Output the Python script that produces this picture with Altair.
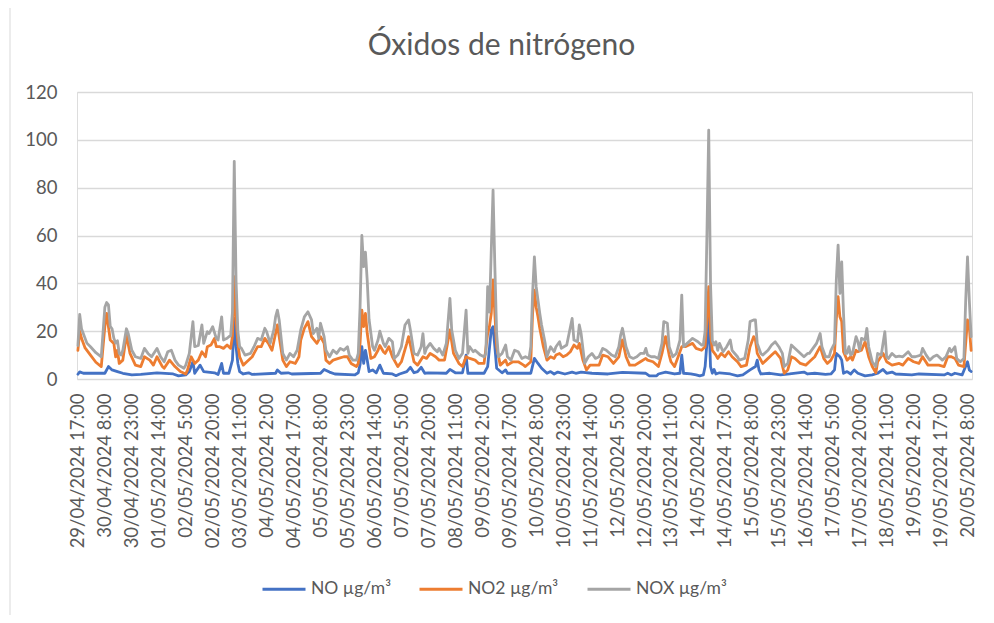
import json
import altair as alt
import pandas as pd

# ---------------- data (hours counted from 29/04/2024 17:00) ----------------
TICK_HOURS = [0, 15, 30, 45, 60, 75, 90, 105, 120, 135, 150, 165, 180, 195, 210, 225, 240,
              255, 270, 285, 300, 315, 330, 345, 360, 375, 390, 405, 420, 435, 450, 465, 480, 495]
TICK_LABELS = ["29/04/2024 17:00", "30/04/2024 8:00", "30/04/2024 23:00", "01/05/2024 14:00",
               "02/05/2024 5:00", "02/05/2024 20:00", "03/05/2024 11:00", "04/05/2024 2:00",
               "04/05/2024 17:00", "05/05/2024 8:00", "05/05/2024 23:00", "06/05/2024 14:00",
               "07/05/2024 5:00", "07/05/2024 20:00", "08/05/2024 11:00", "09/05/2024 2:00",
               "09/05/2024 17:00", "10/05/2024 8:00", "10/05/2024 23:00", "11/05/2024 14:00",
               "12/05/2024 5:00", "12/05/2024 20:00", "13/05/2024 11:00", "14/05/2024 2:00",
               "14/05/2024 17:00", "15/05/2024 8:00", "15/05/2024 23:00", "16/05/2024 14:00",
               "17/05/2024 5:00", "17/05/2024 20:00", "18/05/2024 11:00", "19/05/2024 2:00",
               "19/05/2024 17:00", "20/05/2024 8:00"]
LAST_HOUR = 497

SERIES = ["NO µg/m³", "NO2 µg/m³", "NOX µg/m³"]
COLORS = ["#4472C4", "#ED7D31", "#A5A5A5"]

NO = [(0, 2), (1, 3), (3, 2.4), (7, 2.4), (15, 2.4), (17, 5.2), (19, 3.8), (22, 3.1), (25, 2.4),
      (30, 1.7), (35, 1.9), (44, 2.6), (53, 2.1), (56, 1.3), (60, 1.7), (62, 3.1), (64, 7.2),
      (65, 2.4), (68, 5.8), (70, 3.1), (76, 2.6), (78, 1.9), (80, 6.5), (81, 2.4), (84, 2.4),
      (86, 7.9), (87, 25.3), (88, 13.5), (89, 6.5), (90, 3.1), (92, 2.1), (95, 2.6), (97, 1.9),
      (110, 2.4), (111, 3.8), (113, 2.4), (117, 2.6), (119, 2.1), (135, 2.4), (137, 4),
      (140, 2.9), (143, 2.1), (154, 1.7), (156, 2.6), (157, 6), (158, 13.5), (159, 6.5),
      (160, 12), (161, 7.9), (162, 3.1), (164, 3.8), (166, 2.6), (168, 5.8), (170, 2.4),
      (175, 2.1), (177, 1.4), (179, 2.1), (183, 3.1), (185, 4.9), (187, 2.6), (189, 3.1),
      (191, 4.9), (193, 2.4), (195, 2.6), (205, 2.4), (207, 4), (210, 2.6), (214, 2.6),
      (216, 10), (217, 2.4), (226, 2.4), (228, 5.2), (230, 20.5), (231, 21.9), (232, 13.5),
      (233, 4.5), (236, 2.6), (238, 3.8), (239, 2.4), (250, 2.4), (252, 2.4), (254, 8.6),
      (256, 6.5), (258, 4.5), (261, 2.4), (263, 3.1), (265, 2.1), (267, 2.9), (271, 2.1),
      (275, 2.9), (277, 2.4), (280, 2.9), (286, 2.4), (295, 2.1), (303, 2.8), (316, 2.4),
      (318, 1.3), (322, 1.3), (323, 2.1), (327, 2.9), (332, 2.1), (335, 2.4), (336, 10),
      (337, 2.4), (341, 2.1), (344, 1.7), (346, 1.3), (348, 1.7), (349, 5.2), (350, 15),
      (351, 27.4), (352, 5.2), (353, 2.4), (354, 4), (355, 2.1), (357, 2.6), (363, 2.1),
      (367, 1.3), (370, 1.7), (374, 3.8), (377, 5.2), (378, 7.9), (379, 3.8), (380, 2.1),
      (385, 2.4), (391, 1.7), (396, 2.1), (404, 2.9), (406, 2.1), (410, 2.4), (416, 1.9),
      (419, 2.1), (421, 3.8), (422, 10.7), (424, 9.3), (425, 7.9), (426, 2.4), (428, 3.1),
      (430, 2.1), (432, 3.8), (434, 2.4), (438, 1.3), (442, 1.7), (445, 2.4), (448, 4),
      (450, 2.4), (453, 2.9), (455, 2.1), (464, 1.7), (468, 2.1), (482, 1.7), (484, 2.4),
      (486, 1.7), (488, 2.4), (492, 1.7), (495, 7.2), (496, 3.8), (497, 3.1)]

NO2 = [(0, 12), (1, 20), (2, 17), (4, 13), (7, 10), (10, 7), (13, 5.2), (15, 22), (16, 27.4),
       (18, 16.3), (20, 14.9), (21, 9.3), (22, 12), (23, 6.5), (25, 7.9), (27, 18.4), (29, 10.7),
       (32, 5.8), (35, 5.2), (37, 9.3), (40, 7.9), (42, 5.8), (44, 9.3), (47, 5.2), (48, 4.5),
       (51, 7.9), (54, 5.2), (57, 3.1), (60, 2.1), (61, 3.8), (63, 9.3), (65, 6.5), (67, 7.9),
       (69, 11.4), (71, 9.3), (72, 13.5), (74, 14.2), (76, 17), (77, 13.5), (79, 13.5),
       (81, 12.8), (83, 14.2), (85, 12.8), (86, 18), (87, 42.8), (88, 25), (89, 15), (90, 9.3),
       (92, 5.8), (94, 7.2), (97, 9.3), (98, 10.7), (100, 13.5), (102, 13.5), (104, 17),
       (106, 14.9), (108, 12), (110, 19), (111, 22.6), (112, 17.7), (114, 7.9), (116, 5.2),
       (118, 7.2), (121, 6.5), (123, 9.3), (124, 16.3), (126, 21.2), (128, 24), (130, 17.7),
       (133, 14.9), (135, 17.7), (137, 14.9), (138, 7.9), (140, 6.5), (142, 7.9), (145, 8.6),
       (148, 9.3), (150, 9.3), (152, 6.5), (155, 5.2), (156, 6.5), (157, 15), (158, 28.8),
       (159, 21.9), (160, 27.4), (161, 19), (163, 8.6), (165, 9.3), (167, 12), (168, 14),
       (170, 11.4), (171, 10.7), (173, 13.5), (175, 9.3), (178, 5.2), (180, 7.2), (183, 14.9),
       (184, 17.7), (187, 7.2), (189, 5.8), (192, 9.3), (194, 8.6), (196, 10.7), (199, 9.3),
       (201, 7.9), (204, 7.9), (207, 20.5), (209, 10.7), (212, 6.5), (214, 5.2), (216, 9.3),
       (218, 8.6), (221, 7.9), (223, 6.5), (226, 6.5), (228, 19), (229, 22), (230, 27.4),
       (231, 41.4), (232, 27.4), (233, 13.5), (235, 5.8), (238, 7.9), (239, 5.8), (242, 7.2),
       (245, 7.2), (248, 5.8), (249, 5.2), (252, 7.2), (253, 27.4), (254, 37.2), (255, 30),
       (256, 26), (257, 21.2), (259, 13.5), (261, 7.9), (263, 9.3), (265, 8.6), (266, 10),
       (268, 10.7), (270, 9.3), (272, 10), (274, 11.4), (276, 14.2), (278, 12.8), (279, 14.9),
       (281, 7.9), (283, 3.8), (285, 5.8), (288, 5.8), (290, 5.8), (292, 10), (295, 9.3),
       (298, 6.5), (301, 9.3), (303, 16.3), (305, 9.3), (307, 5.8), (310, 5.8), (313, 7.2),
       (316, 8.6), (317, 7.9), (320, 7.2), (323, 5.2), (325, 10.7), (327, 17.7), (329, 10),
       (330, 7.2), (332, 5.2), (334, 9.3), (336, 13.5), (338, 13.5), (340, 14.2), (342, 14.9),
       (344, 12.8), (347, 12), (349, 13.5), (350, 25), (351, 38.6), (352, 19), (353, 12),
       (355, 10), (356, 8.6), (358, 10.7), (360, 9.3), (362, 11.4), (364, 9.3), (367, 7.2),
       (369, 5.2), (372, 5.8), (374, 13.5), (376, 17.7), (377, 16.3), (378, 10.7), (381, 6.5),
       (383, 7.9), (386, 10), (388, 11.4), (391, 8.6), (393, 2.4), (395, 3.8), (397, 9.3),
       (399, 8.6), (402, 6.5), (405, 5.8), (407, 7.2), (410, 9.3), (413, 13.5), (415, 8.6),
       (417, 6.5), (419, 7.9), (421, 10.7), (422, 25), (423, 34.4), (424, 26), (425, 24),
       (426, 11.4), (428, 7.9), (430, 9.3), (431, 7.9), (433, 12), (434, 11.4), (436, 12),
       (438, 15.6), (440, 9.3), (442, 5.2), (444, 2.6), (445, 7.2), (448, 10.7), (450, 7.2),
       (453, 5.8), (457, 6.5), (459, 5.8), (462, 8.6), (465, 7.2), (468, 6.5), (470, 9.3),
       (473, 5.8), (476, 5.8), (479, 5.8), (482, 5.2), (484, 9.3), (486, 9.3), (488, 8.6),
       (490, 5.8), (493, 5.2), (494, 15), (495, 24.7), (496, 21.9), (497, 12)]

NOX = [(0, 14), (1, 27), (2, 21), (3, 19), (5, 15), (7, 13.5), (10, 11), (13, 9.3), (15, 30),
       (16, 32), (17, 31), (18, 22), (19, 21), (20, 17), (21, 15), (22, 16), (23, 10.7), (24, 10),
       (25, 12), (27, 21), (28, 19), (30, 12), (32, 9.3), (35, 8.6), (37, 12.8), (39, 10.7),
       (41, 9.3), (44, 12.8), (46, 9.3), (48, 7.2), (50, 11.4), (52, 12), (54, 7.9), (56, 5.8),
       (59, 4.5), (60, 5.8), (62, 10.7), (64, 24), (65, 13.5), (67, 14), (69, 22.6), (70, 14.9),
       (72, 19.8), (73, 19), (75, 21.9), (77, 17), (78, 16.3), (80, 26), (81, 16.3), (83, 17),
       (84, 17.7), (85, 18), (86, 28), (87, 91), (88, 41), (89, 20), (90, 13.5), (91, 12.8),
       (93, 10), (96, 10.7), (98, 13.5), (100, 17), (102, 16.3), (104, 21.2), (105, 19.8),
       (107, 14.9), (109, 20.5), (110, 26), (111, 28.8), (112, 24.7), (114, 10.7), (116, 7.9),
       (118, 10.7), (120, 9.3), (122, 12), (124, 20.5), (126, 26), (128, 28.1), (130, 24.7),
       (131, 19), (133, 21.2), (134, 17), (135, 23.3), (137, 17.7), (138, 12), (140, 9.3),
       (142, 12), (144, 10.7), (146, 12.8), (148, 12), (150, 13.5), (151, 10), (153, 7.9),
       (155, 7.9), (156, 10.7), (157, 30), (158, 60), (159, 47), (160, 53), (161, 41), (162, 25),
       (164, 13.5), (165, 12), (167, 16.3), (168, 20), (170, 14.9), (171, 13.5), (173, 17),
       (175, 15.6), (176, 8.6), (178, 10), (180, 13.5), (182, 22.6), (184, 24.7), (185, 20.5),
       (187, 10.7), (189, 10), (191, 13.5), (192, 19), (193, 10.7), (194, 12.8), (196, 14.9),
       (198, 12.8), (200, 11.4), (201, 12.8), (203, 10), (205, 14.9), (207, 33.7), (208, 20.5),
       (210, 12), (212, 8.6), (214, 10.7), (216, 28.8), (217, 10.7), (218, 13.5), (220, 11.4),
       (221, 12), (224, 10), (226, 9.3), (227, 10.7), (228, 38.6), (229, 28), (231, 79),
       (232, 47), (233, 19), (234, 9.3), (236, 10.7), (238, 14.2), (239, 9.3), (241, 7.9),
       (243, 12), (245, 11.4), (247, 8.6), (249, 9.3), (251, 8.6), (252, 13.5), (253, 35.8),
       (254, 51.1), (255, 38.6), (257, 27.4), (258, 22.6), (260, 14.9), (261, 9.3), (263, 13.5),
       (265, 11.4), (266, 13.5), (268, 15.6), (269, 12.8), (272, 14.2), (275, 25.3), (276, 16.3),
       (278, 15.6), (279, 22.6), (280, 19), (282, 6.5), (284, 9.3), (286, 10.7), (288, 8.6),
       (290, 9.3), (292, 12.8), (294, 12), (297, 10), (299, 9.3), (301, 13.5), (302, 18.4),
       (303, 21.2), (305, 13.5), (307, 9.3), (309, 8.6), (311, 9.3), (313, 10.7), (315, 10.7),
       (316, 12.8), (317, 10), (319, 9.3), (321, 9.3), (323, 8.6), (325, 14.9), (326, 24),
       (328, 23.3), (329, 13.5), (331, 9.3), (333, 10.7), (335, 16.3), (336, 35.1), (337, 13.5),
       (339, 14.9), (341, 16.3), (342, 17), (345, 15.6), (347, 14.2), (348, 14.2), (349, 20),
       (350, 60), (351, 104), (352, 40), (353, 16), (354, 14.2), (355, 15.6), (356, 12),
       (357, 14.9), (359, 11.4), (361, 13.5), (363, 16.3), (364, 12), (367, 9.3), (368, 7.9),
       (371, 8.6), (373, 16.3), (374, 24), (376, 24.7), (377, 24.7), (378, 14.9), (380, 10.7),
       (381, 10), (384, 12), (386, 14.2), (388, 15.6), (390, 13.5), (392, 10.7), (393, 5.2),
       (395, 6.5), (397, 14.2), (398, 13.5), (401, 11.4), (404, 9.3), (406, 10.7), (407, 10.7),
       (409, 12.8), (411, 14.9), (413, 19), (414, 13.5), (416, 9.3), (418, 9.3), (419, 12),
       (421, 14.9), (422, 41.4), (423, 56), (424, 35.8), (425, 49), (426, 27.4), (427, 10.7),
       (428, 10.7), (429, 13.5), (430, 10), (431, 10.7), (433, 17.7), (434, 15.6), (435, 12),
       (436, 17), (438, 16.3), (439, 21.2), (440, 13.5), (442, 7.2), (444, 5.2), (445, 10.7),
       (447, 10), (449, 19.8), (450, 9.3), (451, 8.6), (453, 10.7), (455, 9.3), (457, 9.6),
       (459, 9.3), (462, 11.4), (464, 9.3), (466, 9.3), (469, 10), (470, 12.8), (472, 10),
       (474, 7.9), (476, 9.3), (478, 10), (481, 7.9), (483, 9.3), (485, 12.8), (486, 11.4),
       (488, 13.5), (489, 8.6), (491, 7.2), (493, 8.6), (494, 33), (495, 51.1), (496, 33),
       (497, 17.7)]

# ---------------- table ----------------
rows = []
for name, pts in zip(SERIES, [NO, NO2, NOX]):
    for h, v in pts:
        rows.append({"hora": h, "valor": v, "serie": name})
df = pd.DataFrame(rows)

FONT = "Lato"
TXT = "#595959"
label_expr = json.dumps(TICK_LABELS) + "[round(datum.value / 15)]"

x_enc = alt.X(
    "hora:Q",
    title=None,
    scale=alt.Scale(domain=[-0.5, LAST_HOUR + 0.5], nice=False, zero=False),
    axis=alt.Axis(values=TICK_HOURS, labelExpr=label_expr, labelAngle=270,
                  labelAlign="right", labelBaseline="middle", labelPadding=14,
                  ticks=False, domain=False, grid=False, labelFlush=False,
                  labelOverlap=False, labelFont=FONT, labelFontSize=18.5,
                  labelColor=TXT),
)
y_enc = alt.Y(
    "valor:Q",
    title=None,
    scale=alt.Scale(domain=[0, 120], nice=False),
    axis=alt.Axis(values=[0, 20, 40, 60, 80, 100, 120], ticks=False, domain=False,
                  grid=True, gridColor="#D9D9D9", gridWidth=1.3, labelPadding=20,
                  labelFont=FONT, labelFontSize=18.5, labelColor=TXT),
)
c_enc = alt.Color(
    "serie:N",
    title=None,
    scale=alt.Scale(domain=SERIES, range=COLORS),
    legend=alt.Legend(orient="none", legendX=184, legendY=474, direction="horizontal",
                      symbolType="stroke", symbolSize=1849, symbolStrokeWidth=2.8,
                      labelFont=FONT, labelFontSize=17.5, labelColor=TXT,
                      columnPadding=22, labelOffset=4),
)

border = alt.Chart(pd.DataFrame({"k": [0]})).mark_rect(
    fillOpacity=0, stroke="#D9D9D9", strokeWidth=1
).encode(x=alt.value(-67), x2=alt.value(1000), y=alt.value(-90), y2=alt.value(700))

layers = [border]
for name in SERIES:
    layers.append(
        alt.Chart(df)
        .transform_filter(alt.datum.serie == name)
        .mark_line(strokeWidth=2.8, strokeJoin="round", strokeCap="round")
        .encode(x=x_enc, y=y_enc, color=c_enc)
    )

chart = (
    alt.layer(*layers)
    .properties(
        width=895,
        height=287,
        title=alt.TitleParams("Óxidos de nitrógeno", font=FONT, fontSize=30,
                              fontWeight="normal", color=TXT, anchor="middle",
                              dx=-23, offset=-83, baseline="alphabetic"),
        autosize=alt.AutoSizeParams(type="none"),
        padding={"left": 69, "top": 84, "right": 14, "bottom": 236},
    )
    .configure_view(stroke="transparent")
    .configure(background="white")
)

chart.save("out.html", embed_options={"renderer": "svg", "actions": False})
